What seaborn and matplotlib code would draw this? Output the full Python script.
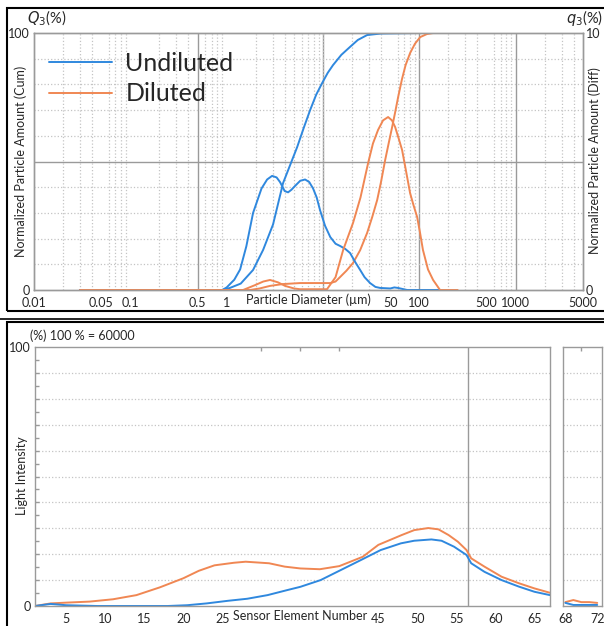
import matplotlib
matplotlib.use("Agg")
import matplotlib.pyplot as plt
import matplotlib.ticker as mticker
from matplotlib.lines import Line2D
from matplotlib.patches import Rectangle
import seaborn as sns
import pandas as pd
import numpy as np

sns.set_theme(style="white")
plt.rcParams['font.family'] = ['Lato', 'DejaVu Sans']
plt.rcParams['mathtext.fontset'] = 'dejavusans'

BLUE = "#2f88de"
ORANGE = "#f08753"
GRID = "#c4c4c4"
MAJ = "#9a9a9a"

# ---- top panel: particle size distribution ----
# cumulative Q3 (%) vs diameter (um)
undil_cum_d = [0.03, 0.9, 1.08, 1.4, 1.88, 2.39, 3.03, 3.85, 4.6, 5.38, 6.3, 7.35, 8.5, 9.79,
               11.2, 12.7, 15.5, 19.1, 23, 28.7, 40, 100]
undil_cum_v = [0, 0, 0.8, 2.5, 7.8, 15.6, 25.5, 41.6, 49, 55.5, 63, 70, 76, 80.5,
               84.5, 87.5, 91.5, 94.6, 97.3, 99.2, 99.8, 100]
dil_cum_d = [0.03, 1.75, 2.2, 2.82, 3.8, 5.78, 11.9, 13.5, 15.1, 17.5, 20.5, 24.3, 28.7, 32.5,
             36.5, 40, 44.2, 48, 52.2, 56, 60.2, 66, 72, 80.2, 90, 102, 120, 139, 250]
dil_cum_v = [0, 0, 0.6, 1.6, 2.3, 2.7, 2.7, 3.3, 5.1, 7.5, 10.5, 15.5, 22.2, 28.5,
             35.0, 42, 50.6, 57, 63.4, 69, 75, 82, 87.5, 92.2, 95.8, 98.4, 99.6, 100, 100]

# differential q3 (%) vs diameter (um)
undil_diff_d = [0.03, 0.9, 1.0, 1.2, 1.38, 1.6, 1.88, 2.3, 2.63, 2.96, 3.3, 3.58, 4.0, 4.34, 4.7,
                5.13, 5.8, 6.52, 7.2, 7.89, 8.6, 9.33, 10.5, 11.9, 13.5, 15.1, 17, 19.1, 21.5,
                24.3, 27, 30.8, 35, 39.2, 50, 55, 60, 74.7, 160]
undil_diff_v = [0, 0, 0.1, 0.4, 0.8, 1.7, 3.0, 3.95, 4.3, 4.44, 4.38, 4.2, 3.85, 3.8, 3.9,
                4.05, 4.25, 4.3, 4.2, 3.95, 3.6, 3.1, 2.5, 2.06, 1.8, 1.71, 1.6, 1.44, 1.1,
                0.78, 0.5, 0.27, 0.12, 0.08, 0.06, 0.1, 0.08, 0, 0]
dil_diff_d = [0.03, 1.48, 1.97, 2.4, 2.82, 3.4, 4.04, 5.0, 5.78, 11.0, 13.5, 16.2, 20.5, 24.5,
              29.4, 33, 37.3, 42, 47.4, 52, 56.1, 61, 66.2, 73, 80.2, 87, 94.9, 102, 109,
              123, 139, 164, 250]
dil_diff_v = [0, 0, 0.19, 0.33, 0.39, 0.3, 0.16, 0.06, 0.03, 0.03, 0.5, 1.56, 2.61, 3.6,
              4.94, 5.7, 6.23, 6.6, 6.73, 6.6, 6.34, 5.9, 5.45, 4.6, 3.77, 3.3, 2.84, 2.2, 1.56,
              0.8, 0.39, 0, 0]

size_ticks = [0.01, 0.05, 0.1, 0.5, 1, 50, 100, 500, 1000, 5000]
size_labels = ["0.01", "0.05", "0.1", "0.5", "1", "50", "100", "500", "1000", "5000"]

# ---- bottom panel: light intensity per sensor element ----
dil_ch = [1, 3, 5, 8, 11, 14, 17, 20, 22, 24, 26.5, 28, 31, 33, 35, 37.5, 40, 43, 45, 48,
          49.6, 51.4, 52.7, 54, 55.2, 56.3, 56.9, 58.6, 60.8, 63, 65, 67]
dil_int = [0, 1.0, 1.3, 1.7, 2.6, 4.2, 7.2, 10.7, 13.6, 15.7, 16.7, 17.1, 16.5, 15.2, 14.5,
           14.2, 15.4, 19.0, 23.6, 27.4, 29.3, 30.1, 29.6, 27.4, 24.8, 21.6, 18.4, 15.2,
           11.3, 8.8, 6.8, 5.1]
undil_ch = [1, 3, 5, 9, 18, 20.5, 23, 25.7, 28.2, 30.8, 33.4, 35, 37.6, 40.2, 42.8, 45.3,
            47.9, 49.6, 51.8, 53.1, 54.7, 56.3, 56.9, 58.6, 60.8, 63, 65, 67]
undil_int = [0, 0.8, 0.3, 0, 0, 0.3, 1.0, 2.0, 2.8, 4.2, 6.2, 7.4, 10.0, 13.9, 17.8, 21.6,
             24.2, 25.2, 25.7, 25.2, 22.9, 19.7, 16.5, 13.2, 10.0, 7.5, 5.5, 4.2]
extra_ch = [68, 69, 70, 71, 72]
extra_dil = [1.5, 2.3, 1.5, 1.5, 1.2]
extra_undil = [1.2, 0.4, 0.4, 0.4, 0.4]
sensor_ticks = [5, 10, 15, 20, 25, 45, 50, 55, 60, 65]

W, H = 604, 626
fig = plt.figure(figsize=(W / 100, H / 100), dpi=100)


def box(x0, y0, x1, y1):
    # figure-pixel box -> [left, bottom, width, height] fractions
    return [x0 / W, 1 - y1 / H, (x1 - x0) / W, (y1 - y0) / H]


def style_spines(ax):
    for s in ax.spines.values():
        s.set_color(MAJ)
        s.set_linewidth(1.0)


def ftext(x, y, s, **kw):
    # text placed in figure pixels (from top-left)
    fig.text(x / W, 1 - y / H, s, **kw)


# ===== top panel =====
ax = fig.add_axes(box(34, 33, 583, 290))
ax.set_xscale("log")
ax.set_xlim(0.01, 5000)
ax.set_ylim(0, 100)
ax2 = ax.twinx()
ax2.set_ylim(0, 10)
ax.set_zorder(ax2.get_zorder() + 1)
ax.patch.set_visible(False)

# grid
ax.xaxis.set_minor_locator(mticker.LogLocator(base=10, subs=np.arange(1, 10), numticks=30))
ax.xaxis.set_minor_formatter(mticker.NullFormatter())
ax.grid(which="minor", axis="x", color=GRID, ls=":", lw=0.9)
for xv in [0.5, 10, 100, 1000]:
    ax.axvline(xv, color=MAJ, lw=1.0, zorder=0.5)
for yv in range(10, 100, 10):
    if yv == 50:
        ax.axhline(yv, color=MAJ, lw=1.0, zorder=0.5)
    else:
        ax.axhline(yv, color=GRID, ls=":", lw=0.9, zorder=0.5)

sns.lineplot(x=undil_cum_d, y=undil_cum_v, ax=ax, color=BLUE, lw=1.4, estimator=None, sort=False)
sns.lineplot(x=dil_cum_d, y=dil_cum_v, ax=ax, color=ORANGE, lw=1.4, estimator=None, sort=False)
sns.lineplot(x=undil_diff_d, y=[v * 10 for v in undil_diff_v], ax=ax, color=BLUE, lw=1.4,
             estimator=None, sort=False)
sns.lineplot(x=dil_diff_d, y=[v * 10 for v in dil_diff_v], ax=ax, color=ORANGE, lw=1.4,
             estimator=None, sort=False)

ax.set_xticks(size_ticks)
ax.set_xticklabels(size_labels)
ax.set_yticks([0, 100])
ax.set_yticklabels(["0", "100"])
ax2.set_yticks([0, 10])
ax2.set_yticklabels(["0", "10"])
ax.tick_params(axis="both", which="both", length=0, labelsize=9, pad=3)
ax2.tick_params(axis="y", length=0, labelsize=9, pad=2)
ax.tick_params(axis="x", pad=5)
style_spines(ax)
style_spines(ax2)
ax.set_xlabel("")
ax.set_ylabel("")
ax2.set_ylabel("")
ftext(21, 161, "Normalized Particle Amount (Cum)", fontsize=9, rotation=90, va="center", ha="center")
ftext(595, 161, "Normalized Particle Amount (Diff)", fontsize=9, rotation=90, va="center", ha="center")

handles = [Line2D([], [], color=BLUE, lw=1.4), Line2D([], [], color=ORANGE, lw=1.4)]
ax.legend(handles, ["Undiluted", "Diluted"], loc="upper left", frameon=False, fontsize=18,
          handlelength=2.5, handletextpad=0.55, labelspacing=0.3, borderaxespad=0.2,
          bbox_to_anchor=(0.0, 0.985))

ftext(27, 18, r"$Q_3$(%)", fontsize=10.5, va="center", ha="left")
ftext(603, 18, r"$q_3$(%)", fontsize=10.5, va="center", ha="right")
ftext(308, 300, "Particle Diameter (µm)", fontsize=9, va="center", ha="center")

# ===== bottom panel =====
bx = fig.add_axes(box(35, 347, 550, 606))
bx.set_xlim(1, 67)
bx.set_ylim(0, 100)
for yv in range(10, 100, 10):
    bx.axhline(yv, color=GRID, ls=":", lw=0.9, zorder=0.5)
bx.axvline(56.5, color=MAJ, lw=1.0, zorder=0.5)
sns.lineplot(x=dil_ch, y=dil_int, ax=bx, color=ORANGE, lw=1.4, estimator=None, sort=False)
sns.lineplot(x=undil_ch, y=undil_int, ax=bx, color=BLUE, lw=1.4, estimator=None, sort=False)
bx.set_xticks(sensor_ticks)
bx.set_yticks([0, 100])
bx.set_yticklabels(["0", "100"])
bx.tick_params(axis="both", length=0, labelsize=9, pad=3)
bx.tick_params(axis="x", pad=5)
bx.xaxis.set_minor_locator(mticker.MultipleLocator(5))
bx.yaxis.set_minor_locator(mticker.MultipleLocator(5))
bx.tick_params(which="minor", direction="in", length=3, color=MAJ, top=True, bottom=False,
               left=True)
style_spines(bx)
bx.set_xlabel("")
bx.set_ylabel("")
ftext(22, 476, "Light Intensity", fontsize=9, rotation=90, va="center", ha="center")
ftext(30, 336, "(%) 100 % = 60000", fontsize=9, va="center", ha="left")
ftext(300, 616, "Sensor Element Number", fontsize=9, va="center", ha="center")

sx = fig.add_axes(box(563, 347, 602, 606))
sx.set_xlim(67.7, 72.6)
sx.set_ylim(0, 100)
for yv in range(10, 100, 10):
    sx.axhline(yv, color=GRID, ls=":", lw=0.9, zorder=0.5)
sns.lineplot(x=extra_ch, y=extra_dil, ax=sx, color=ORANGE, lw=1.4, estimator=None, sort=False)
sns.lineplot(x=extra_ch, y=extra_undil, ax=sx, color=BLUE, lw=1.4, estimator=None, sort=False)
sx.set_xticks([68, 72])
sx.set_yticks([])
sx.tick_params(axis="x", length=0, labelsize=9, pad=5)
sx.xaxis.set_minor_locator(mticker.MultipleLocator(2))
sx.tick_params(which="minor", direction="in", length=3, color=MAJ, top=True, bottom=False)
style_spines(sx)
sx.set_xlabel("")

# panel frames
fig.patches.append(Rectangle((7 / W, 1 - 311 / H), 1.0, 303 / H, transform=fig.transFigure,
                             fill=False, ec="black", lw=1.5))
fig.patches.append(Rectangle((7 / W, -0.1), 1.0, 0.1 + 1 - 322 / H, transform=fig.transFigure,
                             fill=False, ec="black", lw=1.5))
fig.add_artist(Line2D([0, 1], [1 - 319 / H] * 2, transform=fig.transFigure, color="black", lw=1.2))

fig.savefig("out.png", dpi=100)
